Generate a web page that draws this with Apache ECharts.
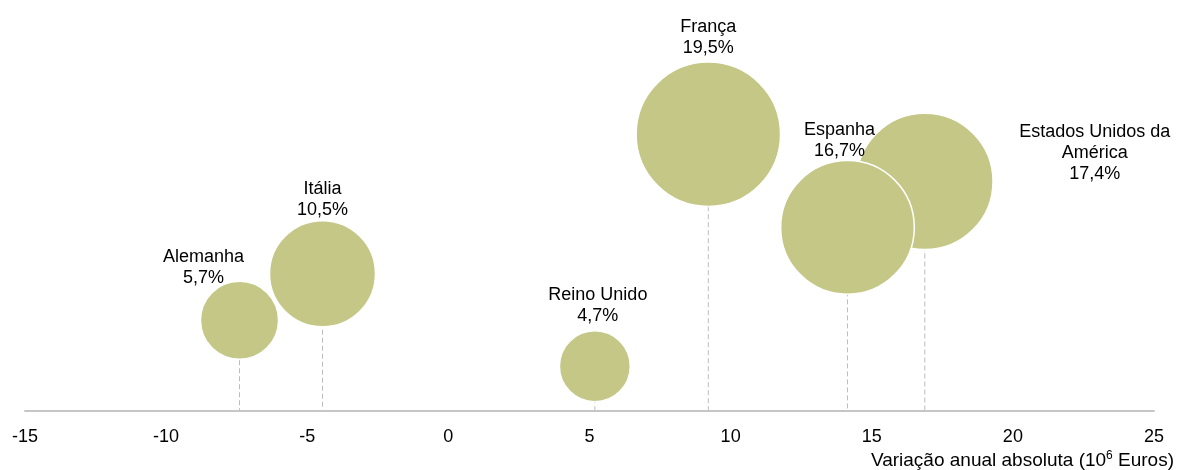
<!DOCTYPE html>
<html>
<head>
<meta charset="utf-8">
<script src="https://cdn.jsdelivr.net/npm/echarts@6/dist/echarts.min.js"></script>
<style>
    html, body { margin: 0; padding: 0; background: #fff; }
    #chart { width: 1177px; height: 470px; }
</style>
</head>
<body>
<div id="chart"></div>
<script>
// Data
const countries = ['Alemanha', 'Itália', 'Reino Unido', 'França', 'Estados Unidos da\nAmérica', 'Espanha'];
const variation = [-7.40, -4.46, 5.19, 9.21, 16.88, 14.14];   // x, 10^6 Euros
const height = [22.7, 34.3, 11.2, 69.2, 57.4, 45.9];          // hidden vertical position
const share = [5.7, 10.5, 4.7, 19.5, 17.4, 16.7];             // bubble size, %
const xTicks = { min: -15, max: 25, interval: 5 };
const xName = 'Variação anual absoluta (10{sup|6} Euros)';

// label placement per country (style only)
const labelPlace = {
    'Alemanha': { position: 'top', offset: [-36, 9] },
    'Itália': { position: 'top', offset: [0, 1] },
    'Reino Unido': { position: 'top', offset: [3, -2] },
    'França': { position: 'top', offset: [0, -2] },
    'Estados Unidos da\nAmérica': { position: 'inside', offset: [170, -28] },
    'Espanha': { position: 'top', offset: [-8, 3] }
};

const FONT = '"Liberation Sans", Arial, sans-serif';

const points = countries.map(function (name, i) {
    return {
        name: name,
        value: [variation[i], height[i], share[i]],
        label: labelPlace[name]
    };
});

const chart = echarts.init(document.getElementById('chart'));

chart.setOption({
    animation: false,
    textStyle: { fontFamily: FONT },
    // x axis name, bottom right
    title: {
        text: xName,
        right: 3,
        top: 450,
        padding: 0,
        textStyle: {
            color: '#000',
            fontSize: 19,
            fontWeight: 'normal',
            fontFamily: FONT,
            lineHeight: 22,
            rich: {
                sup: { fontSize: 12, verticalAlign: 'top', lineHeight: 22, padding: [0, 0, 8, 0], color: '#000', fontFamily: FONT }
            }
        }
    },
    grid: { left: 25, right: 23, top: 11, bottom: 59, containLabel: false, outerBoundsMode: 'none' },
    xAxis: {
        type: 'value',
        min: xTicks.min,
        max: xTicks.max,
        interval: xTicks.interval,
        splitLine: { show: false },
        axisTick: { show: false },
        axisLine: { onZero: false, lineStyle: { color: '#c6c6c6', width: 2 } },
        axisLabel: { color: '#000', fontSize: 18, margin: 17, fontFamily: FONT }
    },
    yAxis: {
        type: 'value',
        min: 0,
        max: 100,
        show: false
    },
    series: [
        {
            // dashed drop lines, drawn under the bubbles
            type: 'custom',
            z: 1,
            silent: true,
            data: points.map(function (p) { return p.value; }),
            renderItem: function (params, api) {
                const top = api.coord([api.value(0), api.value(1)]);
                const bottom = api.coord([api.value(0), 0]);
                return {
                    type: 'line',
                    shape: { x1: top[0], y1: top[1], x2: bottom[0], y2: bottom[1] - 1 },
                    style: { stroke: '#bdbdbd', lineWidth: 1, lineDash: [5, 3] }
                };
            }
        },
        {
            type: 'scatter',
            z: 2,
            data: points,
            symbol: 'circle',
            symbolSize: function (val) {
                return 32.7 * Math.sqrt(val[2]);
            },
            itemStyle: {
                color: '#c4c785',
                borderColor: '#ffffff',
                borderWidth: 1.5,
                opacity: 1
            },
            label: {
                show: true,
                color: '#000',
                fontSize: 18,
                fontFamily: FONT,
                lineHeight: 21,
                align: 'center',
                distance: 1,
                formatter: function (p) {
                    return p.name + '\n' + p.value[2].toFixed(1).replace('.', ',') + '%';
                }
            },
            emphasis: { disabled: true }
        }
    ]
});
</script>
</body>
</html>
